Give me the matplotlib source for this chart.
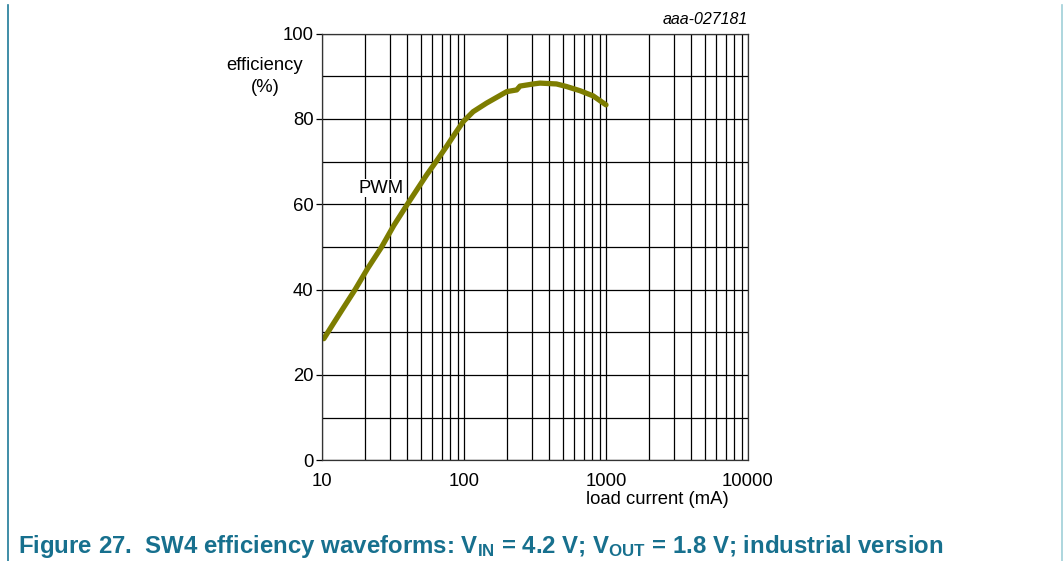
import matplotlib
matplotlib.use("Agg")
import matplotlib.pyplot as plt
from matplotlib.lines import Line2D
from matplotlib.ticker import FixedLocator, NullFormatter

plt.rcParams['font.family'] = ['Liberation Sans', 'DejaVu Sans']
plt.rcParams['mathtext.fontset'] = 'custom'
plt.rcParams['mathtext.rm'] = 'Liberation Sans:bold'
plt.rcParams['mathtext.it'] = 'Liberation Sans:bold'
plt.rcParams['mathtext.bf'] = 'Liberation Sans:bold'
plt.rcParams['mathtext.default'] = 'rm'

# Data (load current in mA, efficiency in %)
load_current = [10.3, 12, 14, 17.1, 21, 26.3, 32, 39.9, 47, 54.6, 63.6, 75.5, 87, 98.9,
                116, 144, 200, 235, 248, 308, 343, 448, 527, 658, 812, 1000]
efficiency = [28.5, 32, 35.5, 40, 45, 50, 55, 60, 63.6, 66.9, 70.0, 73.6, 76.7, 79.4,
              81.7, 83.7, 86.4, 86.8, 87.7, 88.2, 88.4, 88.2, 87.6, 86.6, 85.4, 83.3]

x_ticks = [10, 100, 1000, 10000]
x_tick_labels = ["10", "100", "1000", "10000"]
y_ticks = [0, 20, 40, 60, 80, 100]

W, H = 1064, 561
fig = plt.figure(figsize=(W / 100, H / 100), dpi=100)
ax = fig.add_axes([322 / W, 1 - 460.3 / H, 426 / W, 426.7 / H])

ax.set_xscale('log')
ax.set_xlim(10, 10000)
ax.set_ylim(0, 100)

minor = [m * d for d in (10, 100, 1000) for m in range(2, 10)]
ax.xaxis.set_major_locator(FixedLocator(x_ticks))
ax.xaxis.set_minor_locator(FixedLocator(minor))
ax.xaxis.set_minor_formatter(NullFormatter())
ax.set_xticklabels(x_tick_labels)
ax.yaxis.set_major_locator(FixedLocator(y_ticks))
ax.yaxis.set_minor_locator(FixedLocator([10, 30, 50, 70, 90]))

ax.grid(True, which='both', color='black', linewidth=0.9)
ax.set_axisbelow(True)
for s in ax.spines.values():
    s.set_linewidth(0.9)
    s.set_color('#333333')

FS = 13.3
ax.tick_params(axis='both', which='both', labelsize=FS, colors='black')
ax.tick_params(axis='x', which='both', length=0, pad=9)
ax.tick_params(axis='y', which='major', length=4, pad=2, width=0.9)
ax.tick_params(axis='y', which='minor', length=0)

ax.plot(load_current, efficiency, color='#7d7d00', linewidth=3.8, solid_capstyle='round',
        solid_joinstyle='round')

ax.text(381 / W, 1 - 188 / H, "PWM", transform=fig.transFigure, fontsize=FS,
        ha='center', va='center',
        bbox=dict(facecolor='white', edgecolor='none', pad=0.5))

fig.text(265 / W, 1 - 66 / H, "efficiency", fontsize=FS, ha='center', va='center')
fig.text(265 / W, 1 - 87 / H, "(%)", fontsize=FS, ha='center', va='center')
fig.text(657 / W, 1 - 500 / H, "load current (mA)", fontsize=FS, ha='center', va='center')
fig.text(748 / W, 1 - 20 / H, "aaa-027181", fontsize=11.5, style='italic', ha='right', va='center')

fig.text(18 / W, 1 - 547 / H,
         r"Figure 27.  SW4 efficiency waveforms: V$_{IN}$ = 4.2 V; V$_{OUT}$ = 1.8 V; industrial version",
         fontsize=17.3, fontweight='bold', color='#17708e', ha='left', va='center')

fig.add_artist(Line2D([7.5 / W, 7.5 / W], [0, 1 - 5 / H], transform=fig.transFigure,
                      color='#1f7a98', linewidth=1.2))
fig.add_artist(Line2D([1062 / W, 1062 / W], [0, 1 - 5 / H], transform=fig.transFigure,
                      color='#9fcfd8', linewidth=1.2))

fig.savefig("out.png", dpi=100)
